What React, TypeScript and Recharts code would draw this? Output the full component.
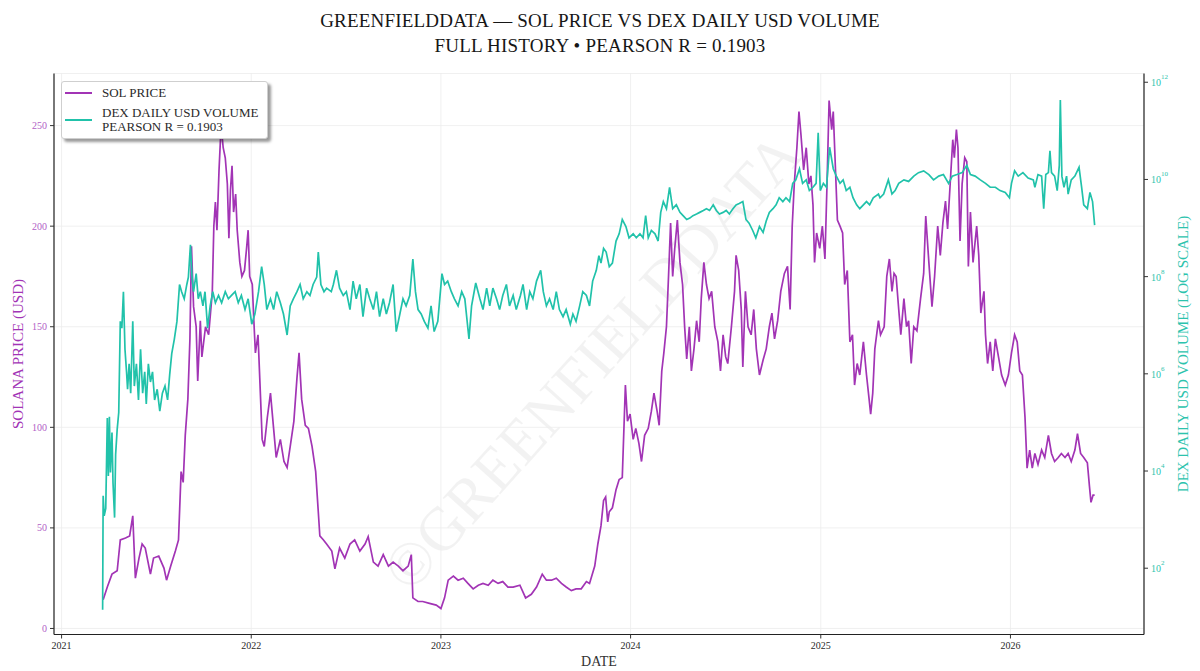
import React from "react";
import { LineChart, Line, XAxis, YAxis, CartesianGrid, Legend } from "recharts";

const FONT = '"Liberation Serif", "DejaVu Serif", serif';
const PURPLE = "#a234b5";
const TEAL = "#21c2aa";
const PURPLE_TEXT = "#b160c6";
const TEAL_TEXT = "#2cc3ad";
const DARK = "#2a2a2a";

const TITLE_LINES = [
  "GREENFIELDDATA — SOL PRICE VS DEX DAILY USD VOLUME",
  "FULL HISTORY • PEARSON R = 0.1903",
];
const PRICE_NAME = "SOL PRICE";
const VOLUME_NAME = "DEX DAILY USD VOLUME\nPEARSON R = 0.1903";
const SERIES_ORDER = ["price", "volume"];
const WATERMARK = "©GREENFIELDDATA";

const YEAR_TICKS = ["2021-01-01", "2022-01-01", "2023-01-01", "2024-01-01", "2025-01-01", "2026-01-01"];
const PRICE_TICKS = [0, 50, 100, 150, 200, 250];
const VOLUME_TICKS = [1e2, 1e4, 1e6, 1e8, 1e10, 1e12];

// SOL price (USD)
const SOL_PRICE: [string, number][] = [
  ["2021-03-22", 14.3], ["2021-03-30", 20.6], ["2021-04-08", 27], ["2021-04-18", 28.7], ["2021-04-24", 44],
  ["2021-05-04", 45], ["2021-05-12", 46], ["2021-05-18", 56], ["2021-05-23", 25], ["2021-05-30", 35],
  ["2021-06-05", 42], ["2021-06-11", 40], ["2021-06-21", 27], ["2021-06-27", 35], ["2021-07-07", 36],
  ["2021-07-17", 30], ["2021-07-22", 24], ["2021-07-30", 31], ["2021-08-08", 38.5], ["2021-08-14", 44],
  ["2021-08-19", 78], ["2021-08-23", 72.6], ["2021-08-27", 96], ["2021-09-01", 114], ["2021-09-05", 144],
  ["2021-09-08", 190], ["2021-09-12", 160], ["2021-09-17", 150], ["2021-09-20", 123], ["2021-09-25", 153],
  ["2021-09-28", 135], ["2021-10-05", 150], ["2021-10-11", 146], ["2021-10-18", 167], ["2021-10-21", 200],
  ["2021-10-24", 212], ["2021-10-27", 198], ["2021-10-31", 228], ["2021-11-04", 250], ["2021-11-08", 239],
  ["2021-11-12", 234], ["2021-11-16", 221], ["2021-11-19", 194], ["2021-11-22", 218], ["2021-11-25", 230],
  ["2021-11-28", 207], ["2021-12-02", 216], ["2021-12-05", 198], ["2021-12-10", 182], ["2021-12-14", 175],
  ["2021-12-19", 178], ["2021-12-23", 189], ["2021-12-26", 198], ["2021-12-29", 175],
  ["2022-01-03", 171], ["2022-01-06", 153], ["2022-01-09", 137], ["2022-01-14", 146], ["2022-01-19", 114],
  ["2022-01-22", 94], ["2022-01-26", 90.5], ["2022-02-01", 105], ["2022-02-07", 117], ["2022-02-13", 99.5],
  ["2022-02-18", 85], ["2022-02-26", 94], ["2022-03-05", 83], ["2022-03-11", 80], ["2022-03-17", 90.5],
  ["2022-03-24", 103], ["2022-03-30", 124.6], ["2022-04-03", 137], ["2022-04-08", 114], ["2022-04-15", 101],
  ["2022-04-21", 99.5], ["2022-04-28", 90.5], ["2022-05-05", 78], ["2022-05-10", 58], ["2022-05-13", 46],
  ["2022-05-20", 44], ["2022-05-26", 42], ["2022-06-05", 38.5], ["2022-06-11", 29.6], ["2022-06-20", 40],
  ["2022-06-30", 35], ["2022-07-10", 42], ["2022-07-19", 44], ["2022-07-29", 38.5], ["2022-08-08", 42],
  ["2022-08-14", 45.7], ["2022-08-24", 33], ["2022-09-02", 31], ["2022-09-12", 36.7], ["2022-09-22", 31],
  ["2022-10-01", 33], ["2022-10-11", 31], ["2022-10-20", 28.7], ["2022-10-30", 31], ["2022-11-05", 36.7],
  ["2022-11-08", 15.2], ["2022-11-18", 13.4], ["2022-11-27", 13.4], ["2022-12-10", 12.5], ["2022-12-23", 11.6],
  ["2023-01-01", 9.9], ["2023-01-08", 15.2], ["2023-01-15", 24], ["2023-01-25", 26], ["2023-02-03", 24],
  ["2023-02-13", 25], ["2023-02-22", 22.4], ["2023-03-04", 19.7], ["2023-03-14", 21.5], ["2023-03-23", 22.4],
  ["2023-04-02", 21.5], ["2023-04-11", 24], ["2023-04-21", 22.4], ["2023-04-30", 23.3], ["2023-05-10", 20.6],
  ["2023-05-20", 20.6], ["2023-06-02", 21.5], ["2023-06-13", 15.2], ["2023-06-24", 17], ["2023-07-04", 20.6],
  ["2023-07-15", 27], ["2023-07-23", 24], ["2023-08-02", 24], ["2023-08-11", 25], ["2023-08-21", 22.4],
  ["2023-08-30", 20.6], ["2023-09-09", 18.8], ["2023-09-18", 19.7], ["2023-09-28", 19.7], ["2023-10-08", 23.3],
  ["2023-10-14", 22.4], ["2023-10-24", 31], ["2023-10-30", 42], ["2023-11-05", 51], ["2023-11-10", 63.6],
  ["2023-11-14", 65.4], ["2023-11-18", 53], ["2023-11-21", 58], ["2023-11-27", 60], ["2023-12-04", 69],
  ["2023-12-10", 74], ["2023-12-16", 75], ["2023-12-22", 121], ["2023-12-26", 103], ["2023-12-31", 106.6],
  ["2024-01-06", 94], ["2024-01-11", 99.5], ["2024-01-17", 92], ["2024-01-22", 83], ["2024-01-28", 96],
  ["2024-02-04", 99.5], ["2024-02-10", 108], ["2024-02-15", 117], ["2024-02-21", 108], ["2024-02-25", 101],
  ["2024-03-01", 128], ["2024-03-05", 137], ["2024-03-10", 150], ["2024-03-14", 175], ["2024-03-18", 201.6],
  ["2024-03-22", 175], ["2024-03-26", 189], ["2024-03-31", 203], ["2024-04-05", 182], ["2024-04-10", 171],
  ["2024-04-14", 150], ["2024-04-18", 134], ["2024-04-23", 150], ["2024-04-27", 128], ["2024-05-02", 139],
  ["2024-05-07", 153], ["2024-05-12", 142.5], ["2024-05-16", 164], ["2024-05-21", 182], ["2024-05-26", 171],
  ["2024-05-31", 164], ["2024-06-05", 167.6], ["2024-06-11", 150], ["2024-06-17", 142.5], ["2024-06-22", 128],
  ["2024-06-27", 146], ["2024-07-02", 135], ["2024-07-06", 131.7], ["2024-07-13", 150], ["2024-07-19", 167.6],
  ["2024-07-22", 185.5], ["2024-07-27", 178], ["2024-08-01", 158.6], ["2024-08-04", 130], ["2024-08-09", 167.6],
  ["2024-08-14", 150], ["2024-08-20", 146], ["2024-08-25", 158.6], ["2024-08-30", 139], ["2024-09-05", 126],
  ["2024-09-12", 133.5], ["2024-09-18", 139], ["2024-09-24", 150], ["2024-09-29", 156.8], ["2024-10-04", 144],
  ["2024-10-10", 153], ["2024-10-16", 167.6], ["2024-10-23", 176.5], ["2024-10-29", 180], ["2024-11-03", 158.6],
  ["2024-11-07", 200], ["2024-11-11", 221], ["2024-11-16", 239], ["2024-11-20", 257], ["2024-11-24", 245],
  ["2024-11-29", 228], ["2024-12-04", 239], ["2024-12-09", 221], ["2024-12-13", 225], ["2024-12-17", 210.6],
  ["2024-12-20", 182], ["2024-12-24", 196.6], ["2024-12-30", 189],
  ["2025-01-04", 200], ["2025-01-09", 183.7], ["2025-01-13", 221], ["2025-01-17", 262.5], ["2025-01-22", 248],
  ["2025-01-25", 257], ["2025-01-29", 230], ["2025-02-02", 203], ["2025-02-07", 200], ["2025-02-12", 196.6],
  ["2025-02-16", 171], ["2025-02-21", 178], ["2025-02-26", 142.5], ["2025-03-03", 146], ["2025-03-07", 121],
  ["2025-03-12", 131.7], ["2025-03-17", 126], ["2025-03-24", 142.5], ["2025-03-30", 126], ["2025-04-04", 114],
  ["2025-04-07", 106.6], ["2025-04-11", 117], ["2025-04-15", 139], ["2025-04-22", 153], ["2025-04-26", 146],
  ["2025-05-03", 150], ["2025-05-08", 175], ["2025-05-13", 183.7], ["2025-05-18", 167.6], ["2025-05-22", 176.5],
  ["2025-05-26", 175], ["2025-05-31", 158.6], ["2025-06-04", 146], ["2025-06-10", 164], ["2025-06-15", 150],
  ["2025-06-19", 153], ["2025-06-24", 131.7], ["2025-06-29", 150], ["2025-07-05", 148], ["2025-07-12", 164],
  ["2025-07-18", 176.5], ["2025-07-22", 205], ["2025-07-28", 182], ["2025-08-03", 160], ["2025-08-08", 175],
  ["2025-08-14", 200], ["2025-08-19", 185.5], ["2025-08-24", 201.6], ["2025-08-29", 212.5], ["2025-09-02", 198.6],
  ["2025-09-07", 221], ["2025-09-12", 243], ["2025-09-15", 234], ["2025-09-19", 248], ["2025-09-22", 239],
  ["2025-09-26", 192.6], ["2025-09-30", 221], ["2025-10-05", 234], ["2025-10-09", 232], ["2025-10-12", 180],
  ["2025-10-16", 207], ["2025-10-21", 182], ["2025-10-28", 200], ["2025-11-01", 185.5], ["2025-11-05", 156.8],
  ["2025-11-11", 167.6], ["2025-11-14", 146], ["2025-11-18", 131.7], ["2025-11-23", 142.5], ["2025-11-28", 128],
  ["2025-12-03", 144], ["2025-12-09", 135], ["2025-12-15", 126], ["2025-12-22", 121], ["2025-12-28", 126],
  ["2026-01-03", 137], ["2026-01-09", 146], ["2026-01-14", 142.5], ["2026-01-19", 128], ["2026-01-24", 126],
  ["2026-01-29", 105], ["2026-02-02", 79.7], ["2026-02-07", 88.7], ["2026-02-12", 79.7], ["2026-02-17", 87],
  ["2026-02-23", 81.5], ["2026-03-02", 88.7], ["2026-03-08", 85], ["2026-03-15", 96], ["2026-03-21", 87],
  ["2026-03-27", 83], ["2026-04-03", 85], ["2026-04-09", 87], ["2026-04-16", 85], ["2026-04-22", 87],
  ["2026-04-28", 83], ["2026-05-05", 88.7], ["2026-05-10", 96.8], ["2026-05-16", 87], ["2026-05-22", 85],
  ["2026-05-29", 82.4], ["2026-06-02", 70.8], ["2026-06-05", 62.7], ["2026-06-09", 66.3], ["2026-06-12", 66.3],
];

// DEX daily USD volume (log axis)
const DEX_VOLUME: [string, number][] = [
  ["2021-03-21", 14], ["2021-03-22", 3.1e3], ["2021-03-24", 1.2e3], ["2021-03-27", 1.7e3], ["2021-03-30", 1.23e5],
  ["2021-04-01", 7.9e3], ["2021-04-03", 1.3e5], ["2021-04-05", 9.3e3], ["2021-04-08", 6.2e4], ["2021-04-10", 5.6e3],
  ["2021-04-13", 1.1e3], ["2021-04-15", 2.2e4], ["2021-04-18", 7.2e4], ["2021-04-21", 1.6e5], ["2021-04-24", 1.2e7],
  ["2021-04-27", 8.7e6], ["2021-04-30", 4.9e7], ["2021-05-03", 3.2e6], ["2021-05-06", 1.1e6], ["2021-05-08", 4.8e5],
  ["2021-05-11", 1.6e6], ["2021-05-14", 4.0e5], ["2021-05-18", 1.2e7], ["2021-05-21", 5.6e5], ["2021-05-25", 1.6e6],
  ["2021-05-29", 2.9e5], ["2021-06-02", 3.2e6], ["2021-06-06", 4.0e5], ["2021-06-10", 1.1e6], ["2021-06-13", 2.4e5],
  ["2021-06-17", 1.6e6], ["2021-06-21", 6.8e5], ["2021-06-25", 1.1e6], ["2021-06-29", 2.9e5], ["2021-07-04", 4.8e5],
  ["2021-07-09", 1.7e5], ["2021-07-14", 4.0e5], ["2021-07-19", 5.6e5], ["2021-07-24", 2.9e5], ["2021-07-28", 9.5e5],
  ["2021-08-01", 2.6e6], ["2021-08-06", 5.2e6], ["2021-08-11", 1.2e7], ["2021-08-16", 6.9e7], ["2021-08-20", 4.9e7],
  ["2021-08-25", 3.5e7], ["2021-08-30", 6.9e7], ["2021-09-02", 9.8e7], ["2021-09-06", 4.5e8], ["2021-09-09", 9.8e7],
  ["2021-09-12", 4.9e7], ["2021-09-17", 1.15e8], ["2021-09-21", 3.5e7], ["2021-09-25", 4.9e7], ["2021-09-30", 2.5e7],
  ["2021-10-04", 4.9e7], ["2021-10-09", 8.7e6], ["2021-10-14", 2.5e7], ["2021-10-19", 4.9e7], ["2021-10-24", 2.9e7],
  ["2021-10-30", 4.1e7], ["2021-11-05", 2.9e7], ["2021-11-12", 4.9e7], ["2021-11-18", 3.5e7], ["2021-11-24", 4.1e7],
  ["2021-12-01", 4.9e7], ["2021-12-07", 2.9e7], ["2021-12-13", 4.1e7], ["2021-12-20", 2.1e7], ["2021-12-26", 3.5e7],
  ["2022-01-02", 1.05e7], ["2022-01-08", 1.7e7], ["2022-01-15", 4.9e7], ["2022-01-21", 1.6e8], ["2022-01-26", 6.9e7],
  ["2022-01-31", 2.1e7], ["2022-02-07", 3.5e7], ["2022-02-13", 2.1e7], ["2022-02-19", 4.9e7], ["2022-02-26", 2.9e7],
  ["2022-03-04", 1.7e7], ["2022-03-11", 6.3e6], ["2022-03-17", 2.5e7], ["2022-03-23", 3.5e7], ["2022-03-30", 4.9e7],
  ["2022-04-05", 6.9e7], ["2022-04-11", 3.5e7], ["2022-04-18", 4.9e7], ["2022-04-24", 4.1e7], ["2022-04-30", 6.9e7],
  ["2022-05-07", 9.8e7], ["2022-05-10", 3.2e8], ["2022-05-15", 6.9e7], ["2022-05-21", 4.9e7], ["2022-05-26", 5.8e7],
  ["2022-06-04", 4.9e7], ["2022-06-08", 6.9e7], ["2022-06-14", 1.35e8], ["2022-06-20", 5.8e7], ["2022-06-27", 4.1e7],
  ["2022-07-03", 4.9e7], ["2022-07-10", 2.1e7], ["2022-07-16", 8.1e7], ["2022-07-22", 3.5e7], ["2022-07-29", 6.9e7],
  ["2022-08-04", 1.5e7], ["2022-08-11", 5.8e7], ["2022-08-17", 3.5e7], ["2022-08-24", 2.1e7], ["2022-08-30", 4.9e7],
  ["2022-09-05", 1.5e7], ["2022-09-12", 3.5e7], ["2022-09-18", 1.7e7], ["2022-09-24", 2.9e7], ["2022-10-01", 6.9e7],
  ["2022-10-07", 7.4e6], ["2022-10-14", 1.7e7], ["2022-10-20", 3.5e7], ["2022-10-26", 2.5e7], ["2022-11-02", 4.1e7],
  ["2022-11-08", 2.3e8], ["2022-11-13", 4.9e7], ["2022-11-18", 2.1e7], ["2022-11-24", 1.7e7], ["2022-11-30", 1.2e7],
  ["2022-12-07", 8.7e6], ["2022-12-13", 2.5e7], ["2022-12-19", 7.4e6], ["2022-12-26", 1.2e7],
  ["2023-01-03", 1.15e8], ["2023-01-08", 6.9e7], ["2023-01-14", 8.1e7], ["2023-01-21", 4.9e7], ["2023-01-27", 3.5e7],
  ["2023-02-03", 2.5e7], ["2023-02-10", 4.9e7], ["2023-02-16", 3.5e7], ["2023-02-24", 5.2e6], ["2023-03-01", 2.5e7],
  ["2023-03-09", 7.4e7], ["2023-03-17", 3.5e7], ["2023-03-23", 2.1e7], ["2023-03-30", 5.8e7], ["2023-04-05", 2.5e7],
  ["2023-04-11", 5.8e7], ["2023-04-18", 3.5e7], ["2023-04-24", 2.1e7], ["2023-04-30", 4.1e7], ["2023-05-07", 6.9e7],
  ["2023-05-13", 2.5e7], ["2023-05-20", 4.1e7], ["2023-05-26", 2.1e7], ["2023-06-03", 4.1e7], ["2023-06-08", 6.9e7],
  ["2023-06-15", 2.1e7], ["2023-06-21", 4.9e7], ["2023-06-27", 3.5e7], ["2023-07-04", 8.1e7], ["2023-07-12", 1.35e8],
  ["2023-07-17", 4.9e7], ["2023-07-23", 2.5e7], ["2023-07-29", 3.5e7], ["2023-08-05", 2.1e7], ["2023-08-11", 4.9e7],
  ["2023-08-17", 2.1e7], ["2023-08-24", 1.5e7], ["2023-08-30", 2.1e7], ["2023-09-07", 1.05e7], ["2023-09-12", 1.7e7],
  ["2023-09-18", 1.2e7], ["2023-09-25", 2.5e7], ["2023-10-01", 4.9e7], ["2023-10-08", 4.1e7], ["2023-10-14", 2.5e7],
  ["2023-10-20", 8.1e7], ["2023-10-27", 1.35e8], ["2023-11-01", 2.7e8], ["2023-11-05", 1.9e8], ["2023-11-10", 3.8e8],
  ["2023-11-15", 3.2e8], ["2023-11-21", 1.6e8], ["2023-11-27", 1.9e8], ["2023-12-04", 5.4e8], ["2023-12-10", 7.6e8],
  ["2023-12-16", 1.5e9], ["2023-12-23", 1.07e9], ["2023-12-29", 6.3e8],
  ["2024-01-06", 7.6e8], ["2024-01-12", 6.3e8], ["2024-01-19", 7.6e8], ["2024-01-25", 6.3e8], ["2024-01-30", 1.8e9],
  ["2024-02-04", 6.3e8], ["2024-02-10", 8.9e8], ["2024-02-17", 7.6e8], ["2024-02-23", 5.4e8], ["2024-02-28", 2.1e9],
  ["2024-03-04", 3.5e9], ["2024-03-10", 2.5e9], ["2024-03-16", 6.9e9], ["2024-03-22", 2.5e9], ["2024-03-29", 3.0e9],
  ["2024-04-05", 2.1e9], ["2024-04-11", 1.8e9], ["2024-04-18", 1.5e9], ["2024-04-24", 1.6e9], ["2024-04-30", 1.8e9],
  ["2024-05-07", 1.95e9], ["2024-05-13", 2.1e9], ["2024-05-20", 2.3e9], ["2024-05-26", 2.5e9], ["2024-06-01", 2.3e9],
  ["2024-06-08", 3.0e9], ["2024-06-14", 2.3e9], ["2024-06-20", 1.95e9], ["2024-06-27", 2.1e9], ["2024-07-03", 2.3e9],
  ["2024-07-09", 1.95e9], ["2024-07-16", 2.5e9], ["2024-07-22", 3.0e9], ["2024-07-28", 3.2e9], ["2024-08-04", 3.5e9],
  ["2024-08-10", 1.5e9], ["2024-08-16", 1.26e9], ["2024-08-23", 8.9e8], ["2024-08-29", 6.3e8], ["2024-09-05", 1.07e9],
  ["2024-09-12", 8.1e8], ["2024-09-18", 1.4e9], ["2024-09-24", 2.1e9], ["2024-10-01", 2.5e9], ["2024-10-07", 3.0e9],
  ["2024-10-13", 4.2e9], ["2024-10-20", 3.5e9], ["2024-10-26", 4.2e9], ["2024-11-02", 3.5e9], ["2024-11-08", 8.3e9],
  ["2024-11-14", 9.8e9], ["2024-11-21", 1.66e10], ["2024-11-27", 8.3e9], ["2024-12-04", 9.8e9], ["2024-12-10", 5.9e9],
  ["2024-12-17", 6.9e9], ["2024-12-23", 8.3e9], ["2024-12-27", 9.1e10], ["2024-12-31", 5.9e9],
  ["2025-01-06", 8.3e9], ["2025-01-12", 6.9e9], ["2025-01-18", 4.6e10], ["2025-01-25", 1.66e10], ["2025-01-31", 1.17e10],
  ["2025-02-07", 8.3e9], ["2025-02-13", 9.8e9], ["2025-02-19", 5.9e9], ["2025-02-26", 6.9e9], ["2025-03-04", 4.2e9],
  ["2025-03-11", 3.0e9], ["2025-03-17", 2.5e9], ["2025-03-24", 3.0e9], ["2025-03-30", 3.5e9], ["2025-04-05", 3.0e9],
  ["2025-04-12", 4.2e9], ["2025-04-22", 5.0e9], ["2025-04-25", 4.2e9], ["2025-05-02", 5.0e9], ["2025-05-11", 9.8e9],
  ["2025-05-18", 5.0e9], ["2025-05-24", 5.9e9], ["2025-05-31", 8.3e9], ["2025-06-10", 9.8e9], ["2025-06-19", 9.1e9],
  ["2025-06-29", 1.17e10], ["2025-07-08", 1.38e10], ["2025-07-18", 1.5e10], ["2025-07-28", 1.26e10], ["2025-08-06", 9.8e9],
  ["2025-08-16", 1.17e10], ["2025-08-25", 1.26e10], ["2025-09-04", 8.3e9], ["2025-09-11", 1.17e10], ["2025-09-20", 1.26e10],
  ["2025-09-30", 1.38e10], ["2025-10-09", 1.95e10], ["2025-10-16", 1.26e10], ["2025-10-25", 1.17e10], ["2025-11-04", 9.8e9],
  ["2025-11-14", 8.3e9], ["2025-11-23", 6.9e9], ["2025-12-03", 6.9e9], ["2025-12-12", 5.9e9], ["2025-12-22", 5.4e9],
  ["2025-12-30", 4.2e9],
  ["2026-01-03", 8.3e9], ["2026-01-09", 1.5e10], ["2026-01-16", 1.17e10], ["2026-01-25", 1.38e10], ["2026-02-04", 1.07e10],
  ["2026-02-14", 9.8e9], ["2026-02-17", 6.9e9], ["2026-02-23", 1.26e10], ["2026-03-02", 1.17e10], ["2026-03-06", 2.5e9],
  ["2026-03-10", 1.26e10], ["2026-03-15", 1.38e10], ["2026-03-18", 3.9e10], ["2026-03-21", 1.38e10], ["2026-03-27", 1.17e10],
  ["2026-04-01", 5.9e9], ["2026-04-05", 1.95e10], ["2026-04-07", 4.3e11], ["2026-04-10", 1.17e10], ["2026-04-14", 6.9e9],
  ["2026-04-19", 1.17e10], ["2026-04-22", 5.0e9], ["2026-04-28", 9.8e9], ["2026-05-05", 1.17e10], ["2026-05-13", 1.78e10],
  ["2026-05-18", 6.9e9], ["2026-05-22", 3.0e9], ["2026-05-29", 2.5e9], ["2026-06-03", 5.4e9], ["2026-06-08", 3.5e9],
  ["2026-06-12", 1.15e9],
];

const priceData = SOL_PRICE.map(([d, v]) => ({ t: Date.parse(d), price: v }));
const volumeData = DEX_VOLUME.map(([d, v]) => ({ t: Date.parse(d), volume: v }));
const xTicks = YEAR_TICKS.map((d) => Date.parse(d));

const X_DOMAIN = [Date.UTC(2020, 11, 17, 10), Date.UTC(2026, 8, 15)];
const PRICE_DOMAIN = [-3.0, 275.9];
const VOLUME_DOMAIN = [Math.pow(10, 0.636), Math.pow(10, 12.18)];

const VolumeTick = (props: any) => {
  const { x, y, payload } = props;
  const exp = String(Math.round(Math.log10(payload.value)));
  return (
    <text x={x} y={y} fill={TEAL_TEXT} fontSize={10} fontFamily={FONT} dominantBaseline="central">
      <tspan>10</tspan>
      <tspan dy={-5} fontSize={7}>{exp}</tspan>
    </text>
  );
};

const LegendBox = (props: any) => {
  const payload = [...(props.payload || [])].sort(
    (a: any, b: any) => SERIES_ORDER.indexOf(a.dataKey) - SERIES_ORDER.indexOf(b.dataKey)
  );
  return (
    <div
      style={{
        background: "#fff",
        border: "1px solid #cfcfcf",
        borderRadius: 3,
        boxShadow: "3px 3px 3px rgba(0,0,0,0.4)",
        padding: "4px 8px 4px 3px",
        fontFamily: FONT,
        fontSize: 13,
        color: DARK,
        display: "inline-block",
      }}
    >
      {payload.map((p: any, i: number) => (
        <div key={i} style={{ display: "flex", alignItems: "center", marginTop: i === 0 ? 0 : 6 }}>
          <div style={{ width: 27, height: 2, background: p.color, marginRight: 10, flexShrink: 0 }} />
          <div style={{ whiteSpace: "pre", lineHeight: "14px" }}>{p.value}</div>
        </div>
      ))}
    </div>
  );
};

export default function App() {
  return (
    <div style={{ position: "absolute", left: 0, top: 0, width: 1200, height: 671, background: "#fff", fontFamily: FONT }}>
      <div
        style={{
          position: "absolute",
          top: 8,
          left: 0,
          width: 1200,
          textAlign: "center",
          fontSize: 19,
          lineHeight: "25px",
          color: "#161616",
          letterSpacing: 0.2,
        }}
      >
        {TITLE_LINES.map((l) => (
          <div key={l}>{l}</div>
        ))}
      </div>
      <div
        style={{
          position: "absolute",
          left: 592,
          top: 362,
          transform: "translate(-50%, -50%) rotate(-48deg)",
          fontSize: 62,
          color: "rgba(0,0,0,0.05)",
          whiteSpace: "nowrap",
          fontFamily: FONT,
          pointerEvents: "none",
        }}
      >
        {WATERMARK}
      </div>
      <LineChart width={1200} height={671} margin={{ top: 73.5, right: 0, bottom: 0, left: 0 }}>
        <CartesianGrid yAxisId="left" stroke="#ececec" strokeWidth={0.8} />
        <XAxis
          dataKey="t"
          type="number"
          domain={X_DOMAIN}
          allowDataOverflow
          ticks={xTicks}
          tickFormatter={(v: number) => String(new Date(v).getUTCFullYear())}
          height={36.5}
          tickSize={4}
          tickMargin={3}
          tick={{ fill: DARK, fontSize: 10, fontFamily: FONT }}
          tickLine={{ stroke: "#333" }}
          axisLine={{ stroke: "#222", strokeWidth: 1.2 }}
          label={{
            content: (p: any) => (
              <text
                x={p.viewBox.x + p.viewBox.width / 2}
                y={p.viewBox.y + 27}
                textAnchor="middle"
                dominantBaseline="central"
                fill="#333"
                fontSize={14}
                fontFamily={FONT}
              >
                DATE
              </text>
            ),
          }}
        />
        <XAxis
          xAxisId="top"
          orientation="top"
          type="number"
          domain={X_DOMAIN}
          allowDataOverflow
          height={0}
          tick={false}
          tickLine={false}
          axisLine={{ stroke: "#222", strokeWidth: 1.2 }}
        />
        <YAxis
          yAxisId="left"
          domain={PRICE_DOMAIN}
          allowDataOverflow
          ticks={PRICE_TICKS}
          width={54}
          tickSize={4}
          tickMargin={3}
          tick={{ fill: PURPLE_TEXT, fontSize: 10, fontFamily: FONT }}
          tickLine={{ stroke: "#333" }}
          axisLine={{ stroke: "#222", strokeWidth: 1.2 }}
          label={{
            content: (p: any) => {
              const cx = p.viewBox.x + 18;
              const cy = p.viewBox.y + p.viewBox.height / 2;
              return (
                <text
                  x={cx}
                  y={cy}
                  transform={`rotate(-90, ${cx}, ${cy})`}
                  textAnchor="middle"
                  dominantBaseline="central"
                  fill={PURPLE}
                  fontSize={15}
                  fontFamily={FONT}
                >
                  SOLANA PRICE (USD)
                </text>
              );
            },
          }}
        />
        <YAxis
          yAxisId="right"
          orientation="right"
          scale="log"
          domain={VOLUME_DOMAIN}
          allowDataOverflow
          ticks={VOLUME_TICKS}
          width={56}
          tickSize={4}
          tickMargin={3}
          tick={<VolumeTick />}
          tickLine={{ stroke: "#333" }}
          axisLine={{ stroke: "#222", strokeWidth: 1.2 }}
          label={{
            content: (p: any) => {
              const cx = p.viewBox.x + 39;
              const cy = p.viewBox.y + p.viewBox.height / 2;
              return (
                <text
                  x={cx}
                  y={cy}
                  transform={`rotate(-90, ${cx}, ${cy})`}
                  textAnchor="middle"
                  dominantBaseline="central"
                  fill={TEAL_TEXT}
                  fontSize={15}
                  fontFamily={FONT}
                >
                  DEX DAILY USD VOLUME (LOG SCALE)
                </text>
              );
            },
          }}
        />
        <Legend
          layout="horizontal"
          verticalAlign="middle"
          align="center"
          content={<LegendBox />}
          wrapperStyle={{ left: 61, top: 81, width: "auto", height: "auto" }}
        />
        <Line
          data={priceData}
          dataKey="price"
          name={PRICE_NAME}
          yAxisId="left"
          type="linear"
          stroke={PURPLE}
          strokeWidth={1.7}
          dot={false}
          activeDot={false}
          isAnimationActive={false}
        />
        <Line
          data={volumeData}
          dataKey="volume"
          name={VOLUME_NAME}
          yAxisId="right"
          type="linear"
          stroke={TEAL}
          strokeWidth={1.7}
          dot={false}
          activeDot={false}
          isAnimationActive={false}
        />
      </LineChart>
    </div>
  );
}
